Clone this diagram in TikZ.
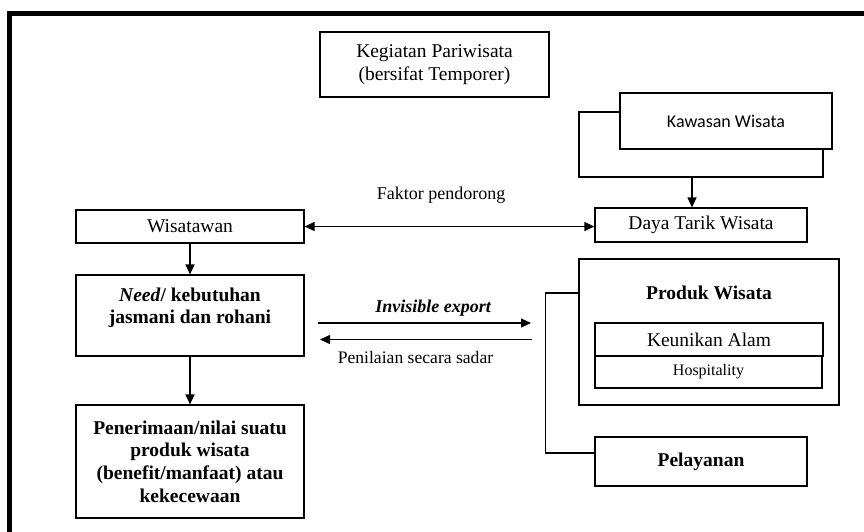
\documentclass[tikz,border=0pt]{standalone}
\usepackage{fontspec}
\setmainfont{Liberation Serif}
\newfontfamily\kawfont{Carlito}
\usetikzlibrary{arrows.meta,calc}
\newcommand\bodyfont{\fontsize{19.5pt}{22.7pt}\selectfont}
\newcommand\lblfont{\fontsize{18pt}{21pt}\selectfont}
\tikzset{
  box/.style={draw,line width=1.2pt,align=center,inner sep=0pt,font=\bodyfont},
  lbl/.style={inner sep=0pt,font=\lblfont},
  ln/.style={line width=1.2pt},
  arr/.style={line width=1.2pt,-{Triangle[length=10pt,width=9pt]}},
  darr/.style={line width=1.2pt,{Triangle[length=10pt,width=9pt]}-{Triangle[length=10pt,width=9pt]}}
}
\begin{document}
\begin{tikzpicture}[x=1pt,y=-1pt]
    \useasboundingbox (0,0) rectangle (864,531);
    % frame
    \draw[line width=4.5pt] (9.5,545) -- (9.5,13.5) -- (875,13.5);
    % top
    \node[box,minimum width=229,minimum height=65] (keg) at (434.5,64.5) {Kegiatan Pariwisata\\(bersifat Temporer)};
    \node[box,minimum width=244,minimum height=65] (kawbg) at (701,144.5) {};
    \node[box,fill=white,minimum width=212,minimum height=56,font=\kawfont\fontsize{18pt}{21pt}\selectfont] (kaw) at (726,121) {Kawasan Wisata};
    \node[box,minimum width=212,minimum height=34] (daya) at (701,225) {Daya Tarik Wisata};
    % left column
    \node[box,minimum width=228,minimum height=33] (wis) at (190,226.5) {Wisatawan};
    \node[box,minimum width=228,minimum height=81,font=\bodyfont\bfseries] (need) at (190,315.5) {\textit{Need}/ kebutuhan\\jasmani dan rohani\\[-9.7pt]\strut};
    \node[box,minimum width=228,minimum height=113,font=\bodyfont\bfseries] (pen) at (190,461.5) {Penerimaan/nilai suatu\\produk wisata\\(benefit/manfaat) atau\\kekecewaan};
    % right column
    \node[box,minimum width=260,minimum height=146] (prod) at (709,332) {};
    \node[lbl,font=\bodyfont\bfseries] (ttl) at (709,293) {Produk Wisata};
    \node[box,minimum width=228,minimum height=33] (keu) at (709,339.5) {Keunikan Alam};
    \node[box,minimum width=227,minimum height=32,font=\fontsize{16pt}{19pt}\selectfont] (hos) at (708.5,372) {Hospitality};
    \node[box,minimum width=212,minimum height=49,font=\bodyfont\bfseries] (pel) at (701,461.5) {Pelayanan};
    % connectors
    \draw[arr] ([xshift=-9pt]kawbg.south) -- ([xshift=-9pt]daya.north);
    \draw[darr] (wis.east) -- (wis.east -| daya.west);
    \node[lbl] (fak) at (441,195) {Faktor pendorong};
    \draw[arr] (wis.south) -- (need.north);
    \draw[arr] (need.south) -- (pen.north);
    \coordinate (ie1) at (318,323);
    \coordinate (ie2) at (531,323);
    \coordinate (ps1) at (532,339.5);
    \coordinate (ps2) at (320,339.5);
    \draw[arr] (ie1) -- (ie2);
    \draw[arr] (ps1) -- (ps2);
    \node[lbl,font=\lblfont\bfseries\itshape] (ielbl) at (433,308) {Invisible export};
    \node[lbl,font=\fontsize{17.6pt}{21pt}\selectfont] (pslbl) at (415.5,357) {Penilaian secara sadar};
    \draw[ln] (ttl -| prod.west) -- ++(-33,0) |- ($(pel.west)+(0,-8.5)$);
\end{tikzpicture}
\end{document}
